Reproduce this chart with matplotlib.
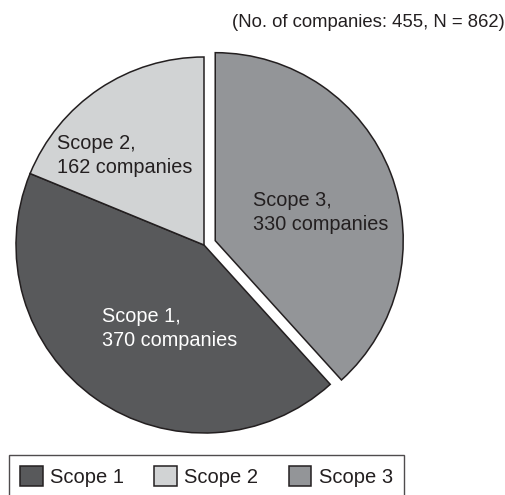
import matplotlib
matplotlib.use("Agg")
import matplotlib.pyplot as plt

plt.rcParams['font.family'] = ['Liberation Sans', 'DejaVu Sans']

# data
categories = ["Scope 1", "Scope 2", "Scope 3"]
companies = [370, 162, 330]
colors = ["#58595b", "#d1d3d4", "#939598"]
slice_labels = ["Scope 1,\n370 companies", "Scope 2,\n162 companies", "Scope 3,\n330 companies"]
label_colors = ["white", "#231f20", "#231f20"]
title = "(No. of companies: 455, N = 862)"

# pie is drawn clockwise from 12 o'clock: Scope 3, Scope 1, Scope 2
order = [2, 0, 1]
explode = [0.064 if categories[i] == "Scope 3" else 0 for i in order]

fig = plt.figure(figsize=(5.06, 4.95), dpi=100)
ax = fig.add_axes([0, 0, 1, 1])

wedges, _ = ax.pie([companies[i] for i in order], colors=[colors[i] for i in order],
                   explode=explode, startangle=90, counterclock=False, radius=1,
                   wedgeprops=dict(edgecolor="#231f20", linewidth=1.1))

# 188 px per unit, center at (204, 245) px from top-left
ax.set_xlim(-204 / 188, 302 / 188)
ax.set_ylim(-250 / 188, 245 / 188)
ax.set_aspect("auto")
ax.axis("off")

# label anchor: left edge and baseline of first line (data units)
label_pos = {"Scope 1": (-0.543, -0.41), "Scope 2": (-0.782, 0.51), "Scope 3": (0.261, 0.21)}
line_step = 24 / 188
for cat, txt, col in zip(categories, slice_labels, label_colors):
    x0, y0 = label_pos[cat]
    for k, line in enumerate(txt.split("\n")):
        ax.text(x0, y0 - k * line_step, line, ha="left", va="baseline",
                fontsize=14.3, color=col)

fig.text(505 / 506, 1 - 27 / 495, title, ha="right", va="baseline",
         fontsize=13.3, color="#231f20")

handles = [wedges[order.index(i)] for i in range(3)]
leg = fig.legend(handles, categories, loc="upper left",
                 bbox_to_anchor=(9 / 506, 1 - 455 / 495), ncol=3,
                 frameon=True, fancybox=False, edgecolor="#231f20",
                 handlelength=1.13, handleheight=1.13, handletextpad=0.36,
                 columnspacing=1.5, borderpad=0.55, borderaxespad=0,
                 fontsize=14.5)
leg.get_frame().set_linewidth(1.0)
for t in leg.get_texts():
    t.set_color("#231f20")

fig.savefig("out.png", dpi=100)
